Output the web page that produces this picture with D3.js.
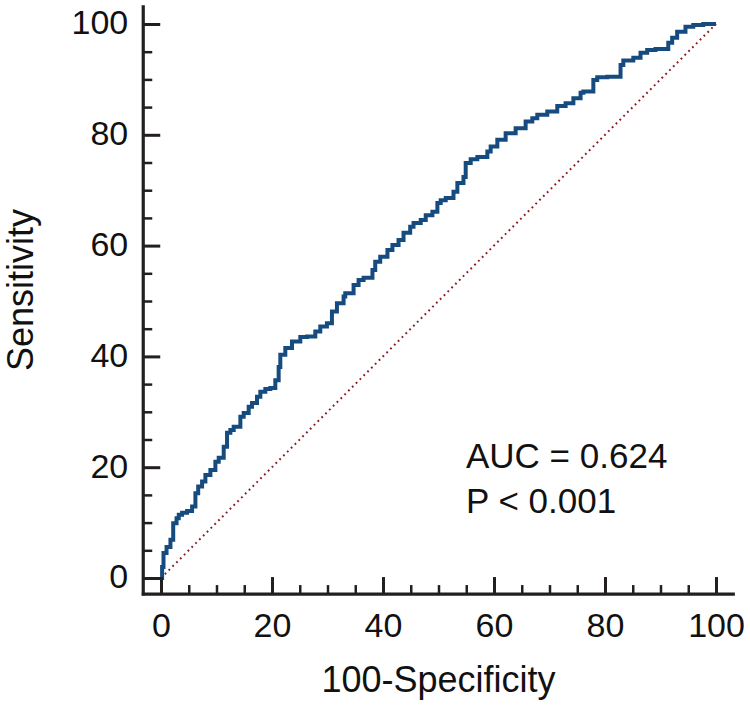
<!DOCTYPE html>
<html>
<head>
<meta charset="utf-8">
<script src="https://cdn.jsdelivr.net/npm/d3@7"></script>
<style>
  html, body { margin: 0; padding: 0; background: #ffffff; }
  text { font-family: "Liberation Sans", Arial, Helvetica, sans-serif; fill: #111; }
</style>
</head>
<body>
<svg id="chart" width="750" height="705"></svg>
<script>
// ---- Data ----
const fpr = [0, 0.2, 0.45, 1.0, 1.7, 2.2, 2.8, 3.2, 3.8, 4.7, 5.6, 6.2, 6.7, 7.4, 8.0, 8.9, 9.8, 10.4, 11.3, 11.9,
  12.5, 13.1, 14.3, 14.9, 15.8, 16.4, 17.3, 17.9, 18.8, 19.7, 20.6, 21.2, 21.5, 22.4, 23.6, 25.1, 26.3, 27.8, 28.7, 29.9,
  30.8, 31.7, 32.9, 33.2, 34.7, 35.6, 36.5, 38.1, 38.6, 39.5, 40.8, 41.7, 42.8, 43.7, 44.9, 45.5, 46.8, 47.7, 48.9, 49.8,
  50.4, 51.3, 52.7, 53.4, 54.5, 54.9, 55.8, 57.0, 58.8, 59.4, 60.6, 62.1, 63.9, 65.7, 66.9, 67.8, 69.6, 71.4, 72.9, 74.3,
  75.6, 76.1, 77.9, 78.6, 80.4, 82.8, 83.3, 85.1, 86.4, 87.6, 89.1, 91.4, 92.1, 93.0, 94.5, 95.9, 97.7, 100];
const tpr = [0, 0, 2.0, 4.5, 5.6, 6.9, 9.9, 10.8, 11.4, 11.8, 12.1, 12.9, 15.3, 16.5, 17.4, 18.6, 19.5, 21.0, 21.7, 23.7,
  26.2, 26.7, 27.3, 29.1, 29.8, 30.9, 31.6, 32.7, 33.6, 34.1, 34.3, 35.7, 38.1, 40.3, 41.5, 42.7, 43.5, 43.6, 44.5, 45.4,
  46.0, 48.1, 49.6, 50.8, 51.4, 52.9, 53.8, 54.2, 55.6, 57.1, 58.0, 59.2, 60.1, 61.0, 62.3, 63.4, 64.1, 64.6, 65.5, 66.1,
  67.7, 68.2, 68.6, 69.7, 71.3, 72.4, 74.9, 75.6, 76.0, 77.0, 77.9, 79.1, 80.3, 81.2, 82.4, 83.0, 83.6, 84.2, 85.2, 85.7,
  86.6, 87.6, 87.8, 89.9, 90.4, 90.5, 92.6, 93.4, 93.9, 94.8, 95.3, 95.5, 96.6, 97.5, 98.6, 99.5, 99.8, 100];
const majorTicks = [0, 20, 40, 60, 80, 100];
const minorTicks = [5, 10, 15, 25, 30, 35, 45, 50, 55, 65, 70, 75, 85, 90, 95];
const xTitle = "100-Specificity";
const yTitle = "Sensitivity";
const annotations = ["AUC = 0.624", "P < 0.001"];

// ---- Layout ----
const svg = d3.select("#chart");
const x = d3.scaleLinear().domain([0, 100]).range([161, 716]);
const y = d3.scaleLinear().domain([0, 100]).range([578, 24]);
const axisColor = "#231f20";
const xAxisY = y(-2.9);
const yAxisX = x(-3.2);

// diagonal reference line
svg.append("line")
  .attr("x1", x(0)).attr("y1", y(0))
  .attr("x2", x(100)).attr("y2", y(100))
  .attr("stroke", "#8b1a1f")
  .attr("stroke-width", 2)
  .attr("stroke-dasharray", "1.8,3.6");

// ROC curve
const pts = fpr.map((d, i) => [d, tpr[i]]);
svg.append("path")
  .datum(pts)
  .attr("fill", "none")
  .attr("stroke", "#164b7f")
  .attr("stroke-width", 4)
  .attr("stroke-linejoin", "miter")
  .attr("d", d3.line().x(d => x(d[0])).y(d => y(d[1])).curve(d3.curveStepBefore));

// Axes: minor ticks
svg.append("g").attr("transform", `translate(0,${xAxisY})`)
  .call(d3.axisBottom(x).tickValues(minorTicks).tickSize(-9).tickFormat(""))
  .call(g => g.select(".domain").remove())
  .call(g => g.selectAll("line").attr("stroke", axisColor).attr("stroke-width", 2.5));
svg.append("g").attr("transform", `translate(${yAxisX},0)`)
  .call(d3.axisLeft(y).tickValues(minorTicks).tickSize(-9).tickFormat(""))
  .call(g => g.select(".domain").remove())
  .call(g => g.selectAll("line").attr("stroke", axisColor).attr("stroke-width", 2.5));

// Axes: major ticks
const xAxisG = svg.append("g").attr("transform", `translate(0,${xAxisY})`)
  .call(d3.axisBottom(x).tickValues(majorTicks).tickSize(-17).tickFormat(d3.format("d")))
  .call(g => g.select(".domain").remove())
  .call(g => g.selectAll("line").attr("stroke", axisColor).attr("stroke-width", 3));
xAxisG.selectAll("text")
  .attr("y", 42.5).attr("dy", null)
  .attr("font-size", 34)
  .attr("font-family", "Liberation Sans, Arial, sans-serif")
  .attr("fill", "#111");

const yAxisG = svg.append("g").attr("transform", `translate(${yAxisX},0)`)
  .call(d3.axisLeft(y).tickValues(majorTicks).tickSize(-17).tickFormat(d3.format("d")))
  .call(g => g.select(".domain").remove())
  .call(g => g.selectAll("line").attr("stroke", axisColor).attr("stroke-width", 3));
yAxisG.selectAll("text")
  .attr("x", -15).attr("dy", "0.29em")
  .attr("font-size", 34)
  .attr("font-family", "Liberation Sans, Arial, sans-serif")
  .attr("fill", "#111");

// Axis lines
svg.append("line")
  .attr("x1", yAxisX).attr("y1", y(103.4))
  .attr("x2", yAxisX).attr("y2", xAxisY + 1.5)
  .attr("stroke", axisColor).attr("stroke-width", 3.2);
svg.append("line")
  .attr("x1", yAxisX - 1.5).attr("y1", xAxisY)
  .attr("x2", x(103.4)).attr("y2", xAxisY)
  .attr("stroke", axisColor).attr("stroke-width", 3.2);

// Axis titles
svg.append("text")
  .attr("x", (x(0) + x(100)) / 2 + 0).attr("y", 692)
  .attr("text-anchor", "middle")
  .attr("font-size", 36)
  .text(xTitle);
svg.append("text")
  .attr("transform", `translate(33,${(y(0) + y(100)) / 2 - 11}) rotate(-90)`)
  .attr("text-anchor", "middle")
  .attr("font-size", 36)
  .text(yTitle);

// Annotations
svg.selectAll("text.anno")
  .data(annotations)
  .enter().append("text")
  .attr("class", "anno")
  .attr("x", 466)
  .attr("y", (d, i) => 468 + i * 45)
  .attr("font-size", 35)
  .text(d => d);
</script>
</body>
</html>
